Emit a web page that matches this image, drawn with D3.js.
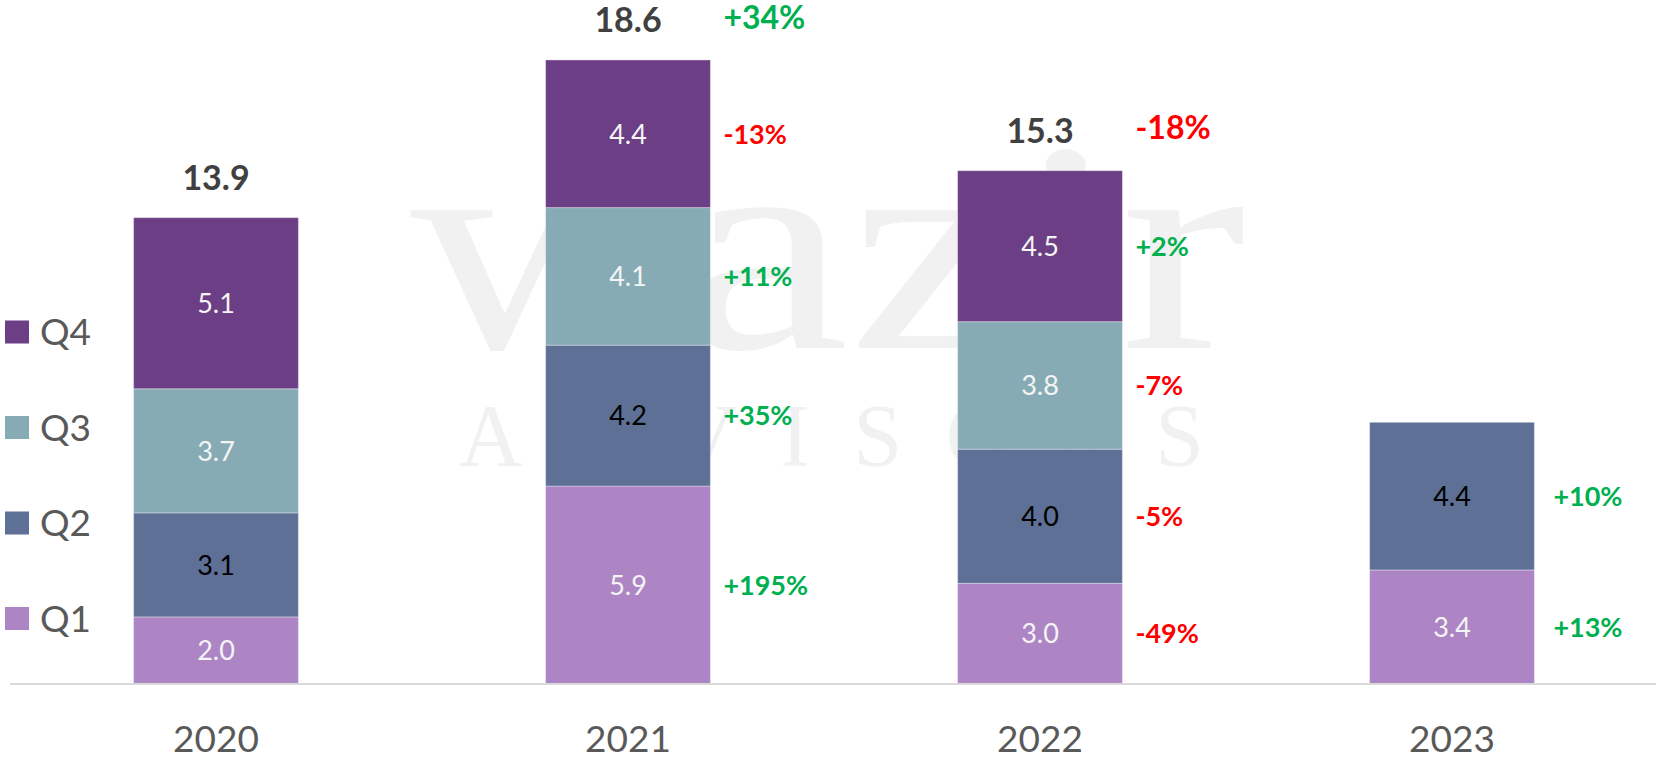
<!DOCTYPE html>
<html>
<head>
  <title>Quarterly totals</title>
  <script src="https://d3js.org/d3.v7.min.js"></script>
  <style>
    body { margin: 0; background: #fff; }
    svg { display: block; font-family: Lato, "Open Sans", sans-serif; }
  </style>
</head>
<body>
  <script>
    // chart data
    var years = ["2020", "2021", "2022", "2023"];
    var quarters = ["Q1", "Q2", "Q3", "Q4"];
    var q1 = [2.0, 5.9, 3.0, 3.4];
    var q2 = [3.1, 4.2, 4.0, 4.4];
    var q3 = [3.7, 4.1, 3.8, null];
    var q4 = [5.1, 4.4, 4.5, null];
    var totalLabels = ["13.9", "18.6", "15.3", null];

    // growth vs previous year
    var yoyQ1 = [null, "+195%", "-49%", "+13%"];
    var yoyQ2 = [null, "+35%", "-5%", "+10%"];
    var yoyQ3 = [null, "+11%", "-7%", null];
    var yoyQ4 = [null, "-13%", "+2%", null];
    var yoyTotal = [null, "+34%", "-18%", null];

    var series = [q1, q2, q3, q4];
    var yoySeries = [yoyQ1, yoyQ2, yoyQ3, yoyQ4];
    var colors = ["#ad85c5", "#5e7096", "#86abb5", "#6c3e85"];
    var textColors = ["#f4f4f4", "#000000", "#f4f4f4", "#f4f4f4"];

    var width = 1656,
        height = 760,
        baseY = 684;

    var svg = d3.select('body')
      .append('svg')
      .attr('width', width)
      .attr('height', height);

    // faint watermark behind the chart
    var wm = svg.append('g')
      .attr('fill', '#f1f1f1')
      .attr('font-family', '"Liberation Serif", "DejaVu Serif", serif');
    wm.append('text')
      .attr('x', 410).attr('y', 348)
      .attr('font-size', 300)
      .attr('textLength', 836)
      .attr('lengthAdjust', 'spacingAndGlyphs')
      .text('wazir');
    wm.append('text')
      .attr('x', 459).attr('y', 465)
      .attr('font-size', 88)
      .attr('textLength', 745)
      .attr('lengthAdjust', 'spacing')
      .text('ADVISORS');

    var x = d3.scaleBand()
      .domain(years)
      .range([10, 1658])
      .paddingInner(0.6)
      .paddingOuter(0.3);

    var y = d3.scaleLinear()
      .domain([0, 20])
      .range([baseY, baseY - 20 * 33.55]);

    // build stacked rows
    var rows = years.map(function(yr, i) {
      var row = { year: yr };
      quarters.forEach(function(q, k) { row[q] = series[k][i] || 0; });
      return row;
    });
    var stack = d3.stack().keys(quarters)(rows);

    var layers = svg.selectAll('g.layer')
      .data(stack)
      .enter().append('g')
      .attr('class', 'layer');

    layers.each(function(layer, k) {
      var g = d3.select(this);
      var segs = layer.filter(function(d, i) { return series[k][i] != null; })
        .map(function(d) { return { y0: d[0], y1: d[1], year: d.data.year, i: years.indexOf(d.data.year) }; });

      g.selectAll('rect')
        .data(segs)
        .enter().append('rect')
        .attr('x', function(d) { return x(d.year); })
        .attr('width', x.bandwidth())
        .attr('y', function(d) { return y(d.y1); })
        .attr('height', function(d) { return y(d.y0) - y(d.y1); })
        .attr('fill', colors[k])
        .attr('stroke', 'rgba(255,255,255,0.35)')
        .attr('stroke-width', 1);

      g.selectAll('text.val')
        .data(segs)
        .enter().append('text')
        .attr('class', 'val')
        .attr('x', function(d) { return x(d.year) + x.bandwidth() / 2; })
        .attr('y', function(d) { return y((d.y0 + d.y1) / 2); })
        .attr('dy', '0.36em')
        .attr('text-anchor', 'middle')
        .attr('font-size', 27)
        .attr('fill', textColors[k])
        .text(function(d) { return series[k][d.i].toFixed(1); });

      g.selectAll('text.yoy')
        .data(segs.filter(function(d) { return yoySeries[k][d.i]; }))
        .enter().append('text')
        .attr('class', 'yoy')
        .attr('x', function(d) { return x(d.year) + x.bandwidth() + (d.i === 3 ? 19 : 13); })
        .attr('y', function(d) { return y((d.y0 + d.y1) / 2); })
        .attr('dy', '0.36em')
        .attr('font-size', 27)
        .attr('font-weight', 'bold')
        .attr('fill', function(d) { return yoySeries[k][d.i][0] === '-' ? '#ff0000' : '#00b050'; })
        .text(function(d) { return yoySeries[k][d.i]; });
    });

    // totals above bars
    var totals = rows.map(function(r) { return d3.sum(quarters, function(q) { return r[q]; }); });

    svg.selectAll('text.total')
      .data(years.filter(function(yr, i) { return totalLabels[i]; }))
      .enter().append('text')
      .attr('class', 'total')
      .attr('x', function(yr) { return x(yr) + x.bandwidth() / 2; })
      .attr('y', function(yr) { return y(totals[years.indexOf(yr)]) - 40; })
      .attr('dy', '0.36em')
      .attr('text-anchor', 'middle')
      .attr('font-size', 34)
      .attr('font-weight', 'bold')
      .attr('fill', '#404040')
      .text(function(yr) { return totalLabels[years.indexOf(yr)]; });

    svg.selectAll('text.totalyoy')
      .data(years.filter(function(yr, i) { return yoyTotal[i]; }))
      .enter().append('text')
      .attr('class', 'totalyoy')
      .attr('x', function(yr) { return x(yr) + x.bandwidth() + 13; })
      .attr('y', function(yr) { return y(totals[years.indexOf(yr)]) - 43; })
      .attr('dy', '0.36em')
      .attr('font-size', 32)
      .attr('font-weight', 'bold')
      .attr('fill', function(yr) { return yoyTotal[years.indexOf(yr)][0] === '-' ? '#ff0000' : '#00b050'; })
      .text(function(yr) { return yoyTotal[years.indexOf(yr)]; });

    // baseline + year labels
    var xAxis = svg.append('g')
      .attr('transform', 'translate(0,' + baseY + ')')
      .call(d3.axisBottom(x).tickSize(0).tickPadding(0));
    xAxis.select('.domain').remove();
    xAxis.append('line')
      .attr('x1', 10).attr('x2', width)
      .attr('stroke', '#d9d9d9')
      .attr('stroke-width', 2);
    xAxis.selectAll('.tick text')
      .attr('y', 68)
      .attr('dy', 0)
      .attr('font-family', 'Lato, sans-serif')
      .attr('font-size', 37)
      .attr('fill', '#595959');

    // legend, Q4 on top
    var legend = svg.selectAll('g.legend')
      .data(quarters.slice().reverse())
      .enter().append('g')
      .attr('class', 'legend')
      .attr('transform', function(d, i) { return 'translate(5,' + (332 + i * 95.5) + ')'; });
    legend.append('rect')
      .attr('x', 0).attr('y', -11.5)
      .attr('width', 24).attr('height', 23)
      .attr('fill', function(d) { return colors[quarters.indexOf(d)]; });
    legend.append('text')
      .attr('x', 35)
      .attr('dy', '0.36em')
      .attr('font-size', 37)
      .attr('fill', '#595959')
      .text(function(d) { return d; });
  </script>
</body>
</html>
